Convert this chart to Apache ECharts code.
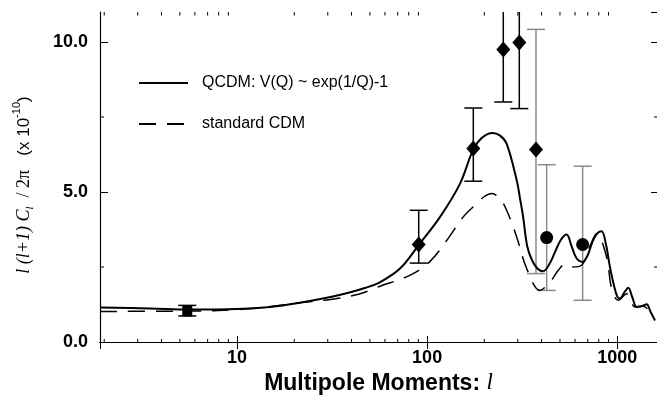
<!DOCTYPE html>
<html>
<head>
<meta charset="utf-8">
<script src="https://cdn.jsdelivr.net/npm/echarts@6/dist/echarts.min.js"></script>
<style>
  html, body { margin: 0; padding: 0; background: #fff; }
  #chart { width: 657px; height: 396px; }
</style>
</head>
<body>
<div id="chart"></div>
<script>
// QCDM: V(Q) ~ exp(1/Q)-1  (solid)
const qcdmL = [1.9, 3.5, 5.6, 10, 15, 21, 31, 39, 47, 56, 72, 90, 117, 149, 175, 195, 221, 242, 262, 296, 308, 320, 336, 355, 380, 408, 440, 471, 505, 542, 575, 610, 658, 700, 737, 780, 828, 870, 916, 960, 1000, 1034, 1090, 1144, 1200, 1266, 1350, 1429, 1500, 1580]
const qcdmV = [1.15, 1.12, 1.08, 1.1, 1.17, 1.3, 1.5, 1.65, 1.8, 1.98, 2.45, 3.22, 4.17, 5.28, 6.42, 6.82, 6.97, 6.88, 6.61, 5.39, 4.79, 4.17, 3.2, 2.75, 2.45, 2.36, 2.6, 3.0, 3.4, 3.58, 3.2, 2.8, 2.67, 2.9, 3.3, 3.6, 3.69, 3.3, 2.5, 1.9, 1.52, 1.45, 1.65, 1.81, 1.5, 1.17, 1.2, 1.26, 1.0, 0.72]

// standard CDM (dashed)
const cdmL = [1.9, 5.6, 10, 15, 21, 31, 44, 56, 81, 103, 127, 155, 182, 200, 219, 240, 262, 296, 334, 392, 443, 490, 531, 578, 650, 719, 780, 880, 935, 1013, 1122, 1240, 1372, 1580]
const cdmV = [1.02, 1.03, 1.08, 1.18, 1.3, 1.42, 1.6, 1.85, 2.22, 2.67, 3.39, 4.17, 4.61, 4.85, 4.95, 4.8, 4.39, 3.5, 2.45, 1.72, 2.0, 2.39, 2.59, 2.5, 2.56, 3.2, 3.61, 2.83, 1.78, 1.39, 1.61, 1.17, 1.19, 0.72]

// measurements
const squareL = [5.47]
const squareV = [1.03]
const squareLo = [0.87]
const squareHi = [1.22]

const diamondL = [90.3, 175, 251.6, 305.5, 373.9]
const diamondV = [3.25, 6.45, 9.75, 9.98, 6.42]
const diamondLo = [2.63, 5.36, 8.0, 7.78, 2.28]
const diamondHi = [4.39, 7.8, 12.5, 12.5, 10.42]

const circleL = [425.6, 658]
const circleV = [3.48, 3.25]
const circleLo = [1.72, 1.39]
const circleHi = [5.91, 5.86]

const xTickLabels = [10, 100, 1000]
const xMinorTicks = [2, 3, 4, 5, 6, 7, 8, 9, 20, 30, 40, 50, 60, 70, 80, 90, 200, 300, 400, 500, 600, 700, 800, 900]
const yTickLabels = [0, 5, 10]
const yMinorTicks = [2.5, 7.5]

const X_MIN = 1.9, X_MAX = 1620, Y_MAX = 11
const GRAY = '#8a8a8a'

const pairs = (a, b) => a.map((v, i) => [v, b[i]])

function errorBars(L, lo, hi, colorOf) {
  return {
    type: 'custom',
    clip: true,
    silent: true,
    z: 3,
    data: L.map((l, i) => [l, lo[i], hi[i]]),
    encode: { x: 0, y: [1, 2] },
    renderItem: (params, api) => {
      const top = api.coord([api.value(0), api.value(2)])
      const bot = api.coord([api.value(0), api.value(1)])
      const style = { stroke: colorOf(params.dataIndex), lineWidth: 1.5 }
      const cap = 9
      return {
        type: 'group',
        children: [
          { type: 'line', shape: { x1: top[0], y1: top[1], x2: bot[0], y2: bot[1] }, style },
          { type: 'line', shape: { x1: top[0] - cap, y1: top[1], x2: top[0] + cap, y2: top[1] }, style },
          { type: 'line', shape: { x1: bot[0] - cap, y1: bot[1], x2: bot[0] + cap, y2: bot[1] }, style }
        ]
      }
    }
  }
}

const chart = echarts.init(document.getElementById('chart'))

chart.setOption({
  animation: false,
  backgroundColor: '#fff',
  grid: { left: 100, right: 0, top: 12, bottom: 54, containLabel: false, outerBoundsMode: 'none' },
  legend: {
    left: 133,
    top: 70,
    orient: 'vertical',
    itemWidth: 49,
    itemHeight: 14,
    itemGap: 25,
    selectedMode: false,
    itemStyle: { opacity: 0 },
    textStyle: { fontFamily: 'Liberation Sans', fontSize: 16, color: '#000', padding: [0, 0, 0, 9] },
    data: ['QCDM: V(Q) ~ exp(1/Q)-1', 'standard CDM']
  },
  xAxis: [
    {
      type: 'log',
      min: X_MIN,
      max: X_MAX,
      axisLine: { lineStyle: { color: '#000', width: 1.2 } },
      axisTick: { inside: true, length: 6, lineStyle: { color: '#000' } },
      splitLine: { show: false },
      axisLabel: {
        margin: 7,
        fontFamily: 'Liberation Sans',
        fontWeight: 'bold',
        fontSize: 18,
        color: '#000',
        formatter: v => xTickLabels.includes(Math.round(v)) ? String(Math.round(v)) : ''
      },
      name: '{b|Multipole Moments: }{i|l}',
      nameLocation: 'middle',
      nameGap: 29,
      nameTextStyle: {
        rich: {
          b: { fontFamily: 'Liberation Sans', fontWeight: 'bold', fontSize: 23, color: '#000' },
          i: { fontFamily: 'Liberation Serif', fontStyle: 'italic', fontSize: 23, color: '#000' }
        }
      }
    },
    {
      type: 'log',
      position: 'top',
      min: X_MIN,
      max: X_MAX,
      axisLine: { lineStyle: { color: '#000', width: 1.2 } },
      axisTick: { inside: true, length: 7, lineStyle: { color: '#000' } },
      axisLabel: { show: false },
      splitLine: { show: false }
    }
  ],
  yAxis: [
    {
      type: 'value',
      min: 0,
      max: Y_MAX,
      interval: 5,
      axisLine: { show: true, lineStyle: { color: '#000', width: 1.2 } },
      axisTick: { show: true, inside: true, length: 8, lineStyle: { color: '#000' } },
      splitLine: { show: false },
      axisLabel: {
        margin: 12,
        fontFamily: 'Liberation Sans',
        fontWeight: 'bold',
        fontSize: 18,
        color: '#000',
        showMaxLabel: false,
        formatter: v => yTickLabels.includes(v) ? v.toFixed(1) : ''
      }
    },
    {
      type: 'value',
      position: 'right',
      min: 0,
      max: Y_MAX,
      interval: 5,
      axisLine: { show: false },
      axisTick: { show: true, inside: true, length: 6, lineStyle: { color: '#000' } },
      axisLabel: { show: false },
      splitLine: { show: false }
    }
  ],
  graphic: [
    {
      type: 'text',
      x: 22,
      y: 185,
      rotation: Math.PI / 2,
      style: {
        text: '{it|l (l+1) C}{sub|l}{sr|  / 2π}{sa|   (x 10}{sup|-10}{sa|)}',
        align: 'center',
        verticalAlign: 'middle',
        fill: '#000',
        rich: {
          it: { fontFamily: 'Liberation Serif', fontStyle: 'italic', fontSize: 18, lineHeight: 22, verticalAlign: 'bottom' },
          sub: { fontFamily: 'Liberation Serif', fontStyle: 'italic', fontSize: 11, lineHeight: 11, verticalAlign: 'bottom', padding: [0, 0, -3, 0] },
          sr: { fontFamily: 'Liberation Serif', fontSize: 18, lineHeight: 22, verticalAlign: 'bottom' },
          sa: { fontFamily: 'Liberation Sans', fontSize: 17, lineHeight: 22, verticalAlign: 'bottom' },
          sup: { fontFamily: 'Liberation Sans', fontSize: 11, lineHeight: 11, verticalAlign: 'top' }
        }
      }
    }
  ],
  series: [
    {
      name: 'QCDM: V(Q) ~ exp(1/Q)-1',
      type: 'line',
      data: pairs(qcdmL, qcdmV),
      smooth: 0.35,
      symbol: 'none',
      clip: true,
      z: 4,
      lineStyle: { color: '#000', width: 2 },
      itemStyle: { color: '#000' }
    },
    {
      name: 'standard CDM',
      type: 'line',
      data: pairs(cdmL, cdmV),
      smooth: 0.35,
      symbol: 'none',
      clip: true,
      z: 4,
      lineStyle: { color: '#000', width: 1.5, type: [17, 11] },
      itemStyle: { color: '#000' }
    },
    errorBars(squareL, squareLo, squareHi, () => '#000'),
    errorBars(diamondL, diamondLo, diamondHi, i => i === diamondL.length - 1 ? GRAY : '#000'),
    errorBars(circleL, circleLo, circleHi, () => GRAY),
    {
      type: 'scatter',
      data: pairs(squareL, squareV),
      symbol: 'rect',
      symbolSize: [10, 11],
      itemStyle: { color: '#000', opacity: 1 },
      z: 5
    },
    {
      type: 'scatter',
      data: pairs(diamondL, diamondV),
      symbol: 'diamond',
      symbolSize: [14, 16],
      itemStyle: { color: '#000', opacity: 1 },
      z: 5
    },
    {
      type: 'scatter',
      data: pairs(circleL, circleV),
      symbol: 'circle',
      symbolSize: 13,
      itemStyle: { color: '#000', opacity: 1 },
      z: 5
    },
    {
      // minor ticks on bottom and top x axes
      type: 'custom',
      silent: true,
      clip: false,
      data: xMinorTicks.map(v => [v, 0]),
      encode: { x: 0, y: 1 },
      renderItem: (params, api) => {
        const b = api.coord([api.value(0), 0])
        const t = api.coord([api.value(0), Y_MAX])
        const style = { stroke: '#000', lineWidth: 1 }
        return {
          type: 'group',
          children: [
            { type: 'line', shape: { x1: b[0], y1: b[1], x2: b[0], y2: b[1] - 3 }, style },
            { type: 'line', shape: { x1: t[0], y1: t[1], x2: t[0], y2: t[1] + 3.5 }, style }
          ]
        }
      }
    },
    {
      // minor ticks on left and right y axes
      type: 'custom',
      silent: true,
      clip: false,
      data: yMinorTicks.map(v => [X_MIN, v]),
      encode: { x: 0, y: 1 },
      renderItem: (params, api) => {
        const l = api.coord([X_MIN, api.value(1)])
        const r = api.coord([X_MAX, api.value(1)])
        const style = { stroke: '#000', lineWidth: 1 }
        return {
          type: 'group',
          children: [
            { type: 'line', shape: { x1: l[0], y1: l[1], x2: l[0] + 4, y2: l[1] }, style },
            { type: 'line', shape: { x1: r[0], y1: r[1], x2: r[0] - 3, y2: r[1] }, style }
          ]
        }
      }
    }
  ]
})
</script>
</body>
</html>
